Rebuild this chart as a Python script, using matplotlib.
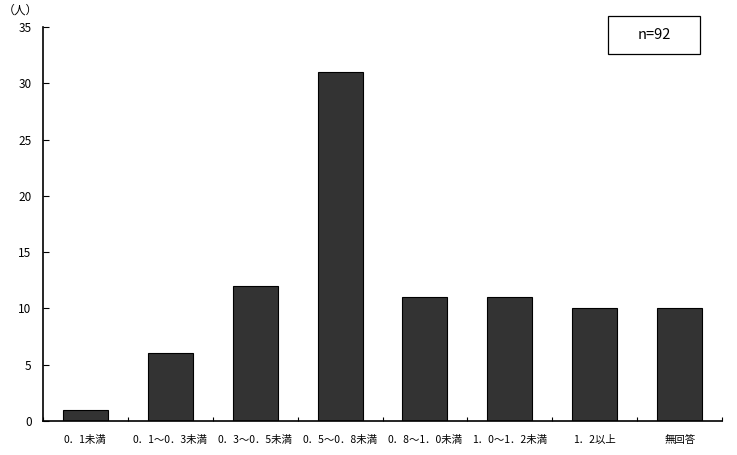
import matplotlib.pyplot as plt
from matplotlib.patches import Rectangle

plt.rcParams['font.family'] = ['Noto Sans CJK JP', 'DejaVu Sans']

# 視力の区分ごとの人数
categories = ['0．1未満', '0．1～0．3未満', '0．3～0．5未満', '0．5～0．8未満',
              '0．8～1．0未満', '1．0～1．2未満', '1．2以上', '無回答']
counts = [1, 6, 12, 31, 11, 11, 10, 10]
y_ticks = [0, 5, 10, 15, 20, 25, 30, 35]

fig = plt.figure(figsize=(7.37, 4.55), dpi=100)
ax = fig.add_axes([0.058, 0.0747, 0.922, 0.866])

x = list(range(len(categories)))
ax.bar(x, counts, width=0.53, color='#333333', edgecolor='black', linewidth=0.8)

ax.set_xlim(-0.5, len(categories) - 0.5)
ax.set_ylim(0, 35)
ax.set_yticks(y_ticks)
ax.tick_params(axis='y', direction='in', length=4, labelsize=8.5, pad=8)

# 区分の境目に目盛り、ラベルは中央
ax.set_xticks([i + 0.5 for i in x[:-1]] + [-0.5, len(categories) - 0.5])
ax.set_xticklabels([])
ax.tick_params(axis='x', direction='in', length=3)
ax.set_xticks(x, minor=True)
ax.set_xticklabels(categories, minor=True, fontsize=7.5)
ax.tick_params(axis='x', which='minor', length=0, pad=10)

ax.spines['top'].set_visible(False)
ax.spines['right'].set_visible(False)
ax.spines['left'].set_linewidth(1.2)
ax.spines['bottom'].set_linewidth(1.2)

fig.text(0.004, 0.977, '（人）', fontsize=8.5, ha='left', va='center')

fig.patches.append(Rectangle((608 / 737, 1 - 54 / 455), 92 / 737, 38 / 455,
                             transform=fig.transFigure, facecolor='white',
                             edgecolor='black', linewidth=0.9))
fig.text(654 / 737, 1 - 35 / 455, 'n=92', fontsize=10.5, ha='center', va='center')

fig.savefig('out.png', dpi=100)
